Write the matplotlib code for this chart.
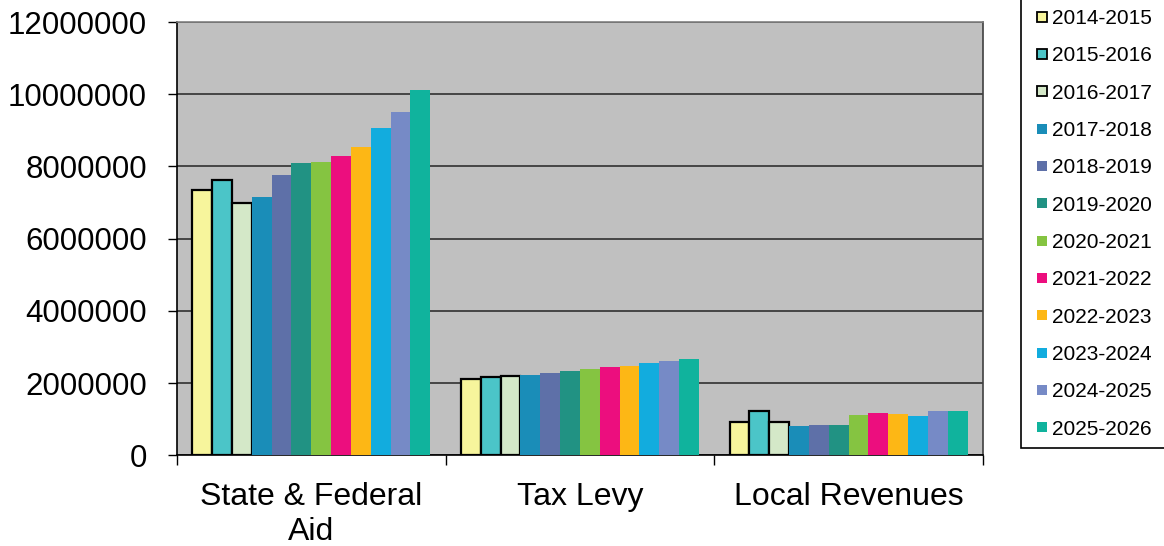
import numpy as np
import matplotlib
matplotlib.use("Agg")
import matplotlib.pyplot as plt
from matplotlib.lines import Line2D
from matplotlib.patches import Rectangle

plt.rcParams['font.family'] = ['Liberation Sans', 'DejaVu Sans']

# data
categories = ['State & Federal\nAid', 'Tax Levy', 'Local Revenues']
years = ['2014-2015', '2015-2016', '2016-2017', '2017-2018', '2018-2019', '2019-2020',
         '2020-2021', '2021-2022', '2022-2023', '2023-2024', '2024-2025', '2025-2026']
state_federal = [7350000, 7630000, 6990000, 7160000, 7760000, 8100000,
                 8120000, 8290000, 8540000, 9070000, 9500000, 10120000]
tax_levy = [2110000, 2160000, 2200000, 2220000, 2270000, 2330000,
            2380000, 2450000, 2470000, 2550000, 2620000, 2670000]
local_revenues = [920000, 1230000, 920000, 810000, 850000, 850000,
                  1120000, 1170000, 1150000, 1100000, 1230000, 1230000]
colors = ['#F7F59C', '#4BC5C8', '#D4E8C8', '#1A8DB8', '#5E70A8', '#219283',
          '#85C441', '#EC0E7E', '#FDB715', '#12ACDE', '#768AC6', '#10B39D']
outlined = [True, True, True] + [False] * 9

values = np.array([state_federal, tax_levy, local_revenues])

fig = plt.figure(figsize=(11.64, 5.46), dpi=100)
ax = fig.add_axes([0.152, 0.1661, 0.6925, 0.7936])
ax.set_facecolor('#C0C0C0')

n = len(years)
group_w = 0.886
w = group_w / n
x = np.arange(len(categories))
for i in range(n):
    pos = x - group_w / 2 + w * (i + 0.5)
    if outlined[i]:
        ax.bar(pos, values[:, i], w, color=colors[i], edgecolor='black', linewidth=1.6, zorder=3)
    else:
        ax.bar(pos, values[:, i], w, color=colors[i], linewidth=0, zorder=3)

ax.set_xlim(-0.5, len(categories) - 0.5)
ax.set_ylim(0, 12000000)
ax.set_yticks(np.arange(0, 12000001, 2000000))
ax.set_yticklabels([str(v) for v in range(0, 12000001, 2000000)], fontsize=22.5)
ax.yaxis.grid(True, color='#3C3C3C', linewidth=1.3, zorder=1)
ax.set_axisbelow(True)

ax.set_xticks(x)
ax.set_xticklabels(categories, fontsize=23, linespacing=1.2)
ax.set_xticks(np.arange(-0.5, len(categories), 1), minor=True)
ax.tick_params(axis='x', which='major', length=0, pad=19.5)
ax.tick_params(axis='x', which='minor', length=7, width=1, color='black')
ax.tick_params(axis='y', length=6.5, width=1, pad=15)

ax.spines['left'].set_color('black')
ax.spines['bottom'].set_color('black')
ax.spines['top'].set_color('#808080')
ax.spines['right'].set_color('#404040')
for s in ax.spines.values():
    s.set_linewidth(1.2)

# legend box runs off the top and right edge, so draw it by hand
fig.patches.append(Rectangle((0.877, 0.1795), 0.2, 0.9, transform=fig.transFigure,
                             facecolor='white', edgecolor='black', linewidth=1.2, zorder=0))

handles = []
for i in range(n):
    edge = 'black' if outlined[i] else colors[i]
    handles.append(Line2D([], [], linestyle='none', marker='s', markersize=7.2,
                          markerfacecolor=colors[i], markeredgecolor=edge,
                          markeredgewidth=1.3 if outlined[i] else 0))
leg = fig.legend(handles, years, loc='lower left', bbox_to_anchor=(0.877, 0.1795),
                 fontsize=15, frameon=False, borderaxespad=0,
                 handlelength=1.1, handletextpad=-0.06,
                 labelspacing=0.88, borderpad=0.45)

fig.savefig('out.png', dpi=100)
